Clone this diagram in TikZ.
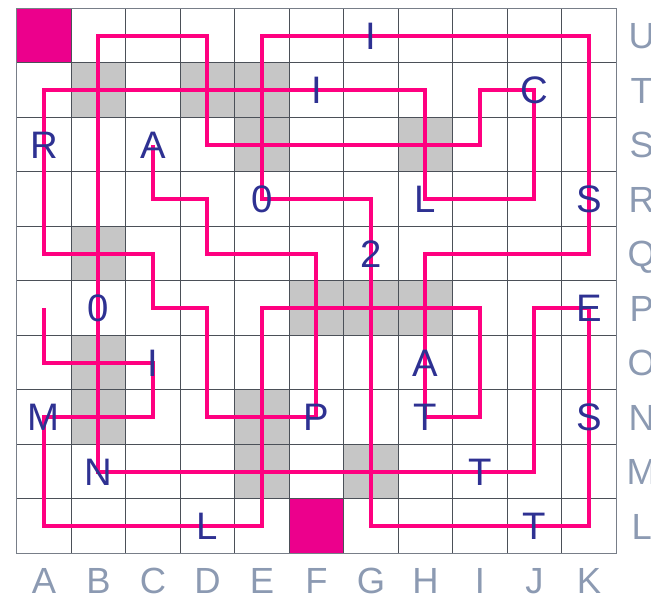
\documentclass[tikz,border=0pt]{standalone}
\usepackage{fontspec}
\setmainfont{Liberation Sans}
\definecolor{pathpink}{RGB}{255,0,128}
\definecolor{sqpink}{RGB}{236,0,140}
\definecolor{cellgray}{RGB}{198,198,198}
\definecolor{gridline}{RGB}{75,80,88}
\definecolor{gridborder}{RGB}{120,126,136}
\definecolor{letterblue}{RGB}{46,49,146}
\definecolor{axisgray}{RGB}{140,154,178}
\begin{document}
\begin{tikzpicture}[x=1cm,y=1cm,
  route/.style={draw=pathpink, line width=2.1pt},
  cellletter/.style={text=letterblue, font=\fontsize{20}{24}\selectfont, inner sep=0pt, text height=14.4pt, text depth=0pt},
  axislabel/.style={text=axisgray, font=\fontsize{19}{23}\selectfont, inner sep=0pt, text height=13.6pt, text depth=0pt},
  shaded/.style={fill=cellgray},
  target/.style={fill=sqpink},
  gridlines/.style={draw=gridline, line width=0.55pt},
  gridframe/.style={draw=gridborder, line width=0.6pt}]
\useasboundingbox (-0.306,-0.82) rectangle (11.639,10.152);
% cell centre coordinates
\foreach \c [count=\i from 0] in {A,B,C,D,E,F,G,H,I,J,K}{
  \foreach \r [count=\j from 0] in {L,M,N,O,P,Q,R,S,T,U}{
    \coordinate (\c\r) at (\i+0.5,\j+0.5);
  }
}
% shaded cells
\foreach \cell in {BT,DT,ET,ES,HS,BQ,FP,GP,HP,BO,BN,EN,EM,GM}{
  \path[shaded] (\cell) +(-0.5,-0.5) rectangle +(0.5,0.5);
}
% pink squares
\foreach \cell in {AU,FL}{
  \path[target] (\cell) +(-0.5,-0.5) rectangle +(0.5,0.5);
}
% grid
\draw[gridlines] (0,0) grid (11,10);
\draw[gridframe] (0,0) rectangle (11,10);
% route
\draw[route] (AP) -- (AO) -- (CO) -- (CN) -- (AN) -- (AL) -- (EL) -- (EP)
  -- (IP) -- (IN) -- (HN) -- (HQ) -- (KQ) -- (KU) -- (EU) -- (ER) -- (GR)
  -- (GL) -- (KL) -- (KP) -- (JP) -- (JM) -- (BM) -- (BU) -- (DU) -- (DS)
  -- (IS) -- (IT) -- (JT) -- (JR) -- (HR) -- (HT) -- (AT) -- (AQ) -- (CQ)
  -- (CP) -- (DP) -- (DN) -- (FN) -- (FQ) -- (DQ) -- (DR) -- (CR) -- (CS);
% letters
\node[cellletter] (lGU) at (GU) {I};
\node[cellletter] (lFT) at (FT) {I};
\node[cellletter] (lJT) at (JT) {C};
\node[cellletter] (lAS) at (AS) {R};
\node[cellletter] (lCS) at (CS) {A};
\node[cellletter] (lER) at (ER) {0};
\node[cellletter] (lHR) at (HR) {L};
\node[cellletter] (lKR) at (KR) {S};
\node[cellletter] (lGQ) at (GQ) {2};
\node[cellletter] (lBP) at (BP) {0};
\node[cellletter] (lKP) at (KP) {E};
\node[cellletter] (lCO) at (CO) {I};
\node[cellletter] (lHO) at (HO) {A};
\node[cellletter] (lAN) at (AN) {M};
\node[cellletter] (lFN) at (FN) {P};
\node[cellletter] (lHN) at (HN) {T};
\node[cellletter] (lKN) at (KN) {S};
\node[cellletter] (lBM) at (BM) {N};
\node[cellletter] (lIM) at (IM) {T};
\node[cellletter] (lDL) at (DL) {L};
\node[cellletter] (lJL) at (JL) {T};
% axis labels
\foreach \c [count=\i from 0] in {A,B,C,D,E,F,G,H,I,J,K}{
  \node[axislabel] (col\c) at (\i+0.5,-0.5) {\c};
}
\foreach \r [count=\j from 0] in {L,M,N,O,P,Q,R,S,T,U}{
  \node[axislabel] (row\r) at (11.47,\j+0.5) {\r};
}
\end{tikzpicture}
\end{document}
